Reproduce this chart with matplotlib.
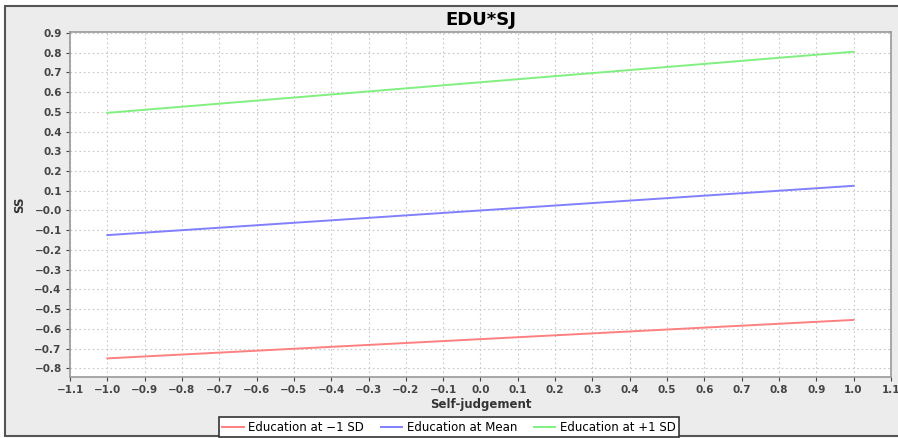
#!/usr/bin/env python3
# edu_sj_interaction.py

import numpy as np
import matplotlib
matplotlib.use("Agg")
import matplotlib.pyplot as plt
from matplotlib.patches import Rectangle

# simple slopes of SS on self-judgement at three education levels
sj = [-1.0, 1.0]
ss_low = [-0.75, -0.555]
ss_mean = [-0.125, 0.125]
ss_high = [0.495, 0.805]

labels = ["Education at \u22121 SD", "Education at Mean", "Education at +1 SD"]
colors = ["#ff8080", "#8080ff", "#80f080"]


def minus_fmt(v, p):
    return f"{v:.1f}".replace("-", "\u2212")


def main():
    fig = plt.figure(figsize=(8.98, 4.38), dpi=100, facecolor="white")
    # panel frame runs off the right edge
    fig.patches.append(Rectangle((0.006, 0.005), 1.0, 0.981, transform=fig.transFigure,
                                 facecolor="#ececec", edgecolor="#555555", lw=1.5, zorder=-1))

    ax = fig.add_axes([0.078, 0.139, 0.914, 0.788])
    ax.set_facecolor("white")

    for ys, lab, c in zip([ss_low, ss_mean, ss_high], labels, colors):
        ax.plot(sj, ys, color=c, lw=1.4, label=lab)

    ax.set_xlim(-1.1, 1.1)
    ax.set_ylim(-0.845, 0.905)
    ax.set_xticks(np.round(np.arange(-1.1, 1.11, 0.1), 1))
    ax.set_yticks(np.round(np.arange(-0.8, 0.91, 0.1), 1))
    ax.xaxis.set_major_formatter(plt.FuncFormatter(minus_fmt))
    ax.yaxis.set_major_formatter(plt.FuncFormatter(minus_fmt))
    ax.tick_params(labelsize=7.5, colors="#444444", length=3, width=0.8, pad=3)
    for t in ax.get_xticklabels() + ax.get_yticklabels():
        t.set_fontweight("bold")
    ax.grid(True, color="#c8c8c8", linestyle=(0, (1.5, 2.5)), lw=0.8)
    for s in ax.spines.values():
        s.set_color("#999999")
        s.set_linewidth(1.2)

    ax.set_title("EDU*SJ", fontsize=13, fontweight="bold", pad=5)
    ax.set_xlabel("Self-judgement", fontsize=8.5, fontweight="bold", color="#333333", labelpad=2)
    ax.set_ylabel("SS", fontsize=8.5, fontweight="bold", color="#333333", labelpad=6)

    leg = fig.legend(loc="lower center", bbox_to_anchor=(0.5, -0.012), ncol=3, fontsize=8.5,
                     frameon=True, fancybox=False, edgecolor="#333333", handlelength=1.8,
                     columnspacing=1.4, handletextpad=0.4, borderpad=0.3, framealpha=1)
    leg.get_frame().set_linewidth(1.2)

    fig.savefig("out.png", dpi=100)


if __name__ == "__main__":
    main()
